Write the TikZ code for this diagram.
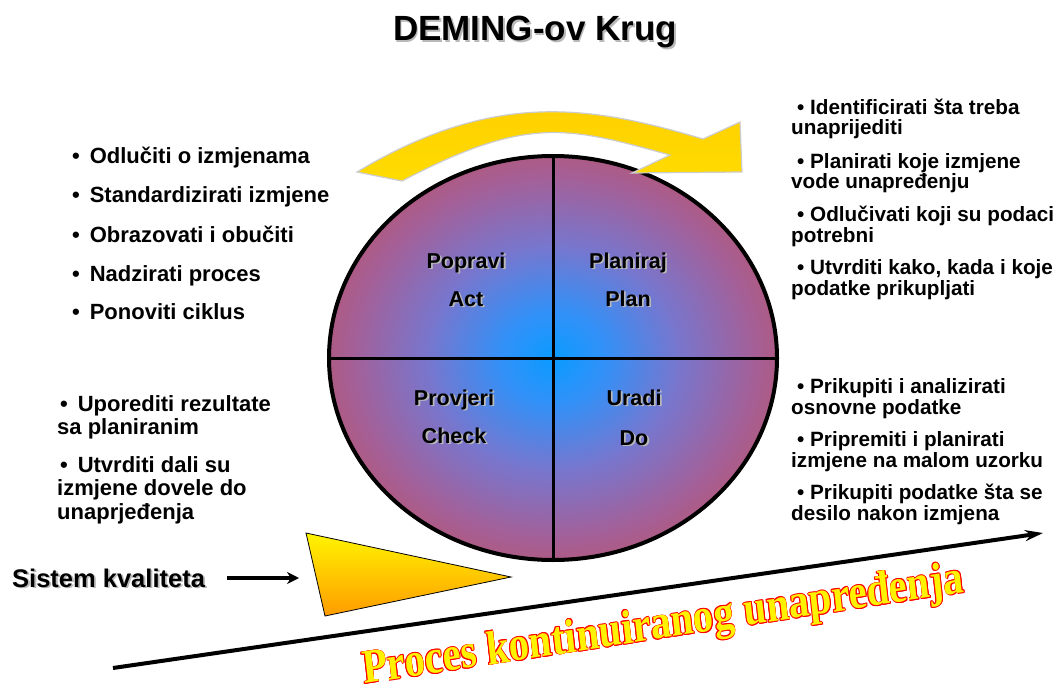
\documentclass[tikz,border=0pt]{standalone}
\usepackage{fontspec}
\setmainfont{Liberation Sans}
\newfontfamily\procfont{Liberation Serif}
\usetikzlibrary{arrows.meta}
\definecolor{cA}{RGB}{10,155,255}
\definecolor{cB}{RGB}{50,145,248}
\definecolor{cC}{RGB}{120,118,205}
\definecolor{cD}{RGB}{165,95,150}
\definecolor{cE}{RGB}{188,82,98}
\definecolor{cF}{RGB}{192,80,80}
\definecolor{arrTop}{RGB}{255,205,0}
\definecolor{arrMid}{RGB}{255,248,0}
\definecolor{arrBot}{RGB}{255,220,0}
\definecolor{triTop}{RGB}{255,245,0}
\definecolor{triBot}{RGB}{255,155,0}
\definecolor{shadowgray}{RGB}{185,185,185}
\pgfdeclareradialshading{deming}{\pgfpoint{0bp}{0bp}}{color(0bp)=(cA); color(5.7bp)=(cB); color(14bp)=(cC); color(22.6bp)=(cD); color(29.7bp)=(cE); color(35.4bp)=(cF); color(50bp)=(cF)}
\newcommand\shtext[1]{\makebox[0pt][l]{\hspace{1.8pt}\raisebox{-1.8pt}{\textcolor{shadowgray}{#1}}}#1}
\newcommand\redcopy[3]{\makebox[0pt][l]{\hspace{#1}\raisebox{#2}{\textcolor{red}{#3}}}}
\newcommand\outl[1]{\redcopy{0.9pt}{0pt}{#1}\redcopy{-0.9pt}{0pt}{#1}\redcopy{0pt}{0.9pt}{#1}\redcopy{0pt}{-0.9pt}{#1}\redcopy{0.65pt}{0.65pt}{#1}\redcopy{-0.65pt}{0.65pt}{#1}\redcopy{0.65pt}{-0.65pt}{#1}\redcopy{-0.65pt}{-0.65pt}{#1}\textcolor{yellow}{#1}}
\newcommand\lbul{\textbullet\hspace{0.45em}}
\tikzset{
  lefttxt/.style={anchor=base west, align=left, inner sep=0pt, font=\fontsize{22}{23.5}\selectfont\bfseries},
  righttxt/.style={anchor=base west, align=left, inner sep=0pt, font=\fontsize{20.7}{20.5}\selectfont\bfseries},
  quad/.style={anchor=base, inner sep=0pt, font=\fontsize{21.5}{24}\selectfont\bfseries},
}
\begin{document}
\begin{tikzpicture}[x=1pt,y=-1pt]
\useasboundingbox (0,0) rectangle (1062,687);
\fill[white] (0,0) rectangle (1062,687);
% title
\node[anchor=base, inner sep=0pt, font=\fontsize{35}{40}\selectfont\bfseries] (title) at (535,41) {\shtext{DEMING-ov Krug}};
% circle
\path[shading=deming] (553,358) ellipse [x radius=224pt, y radius=202pt];
\draw[line width=4pt] (553,358) ellipse [x radius=224pt, y radius=202pt];
\coordinate (ctop) at (553,157);
\coordinate (cbot) at (553,560);
\coordinate (cleft) at (330,358);
\coordinate (cright) at (776,358);
\draw[line width=3pt] (ctop) -- (cbot);
\draw[line width=3pt] (cleft) -- (cright);
% top curved arrow
\path[draw=gray!40, line width=1.2pt, top color=arrTop, middle color=arrMid, bottom color=arrBot]
  (357,172) .. controls (495,89) and (592,106) .. (703,139) -- (740,122) -- (742,172) -- (632,173) -- (670,155)
  .. controls (568,127) and (528,115) .. (402,181) -- cycle;
% quadrant labels
\node[quad] (q1a) at (466,268) {\shtext{Popravi}};
\node[quad] (q1b) at (466,306) {\shtext{Act}};
\node[quad] (q2a) at (628,268) {\shtext{Planiraj}};
\node[quad] (q2b) at (628,306) {\shtext{Plan}};
\node[quad] (q3a) at (454,405) {\shtext{Provjeri}};
\node[quad] (q3b) at (454,443) {\shtext{Check}};
\node[quad] (q4a) at (634,405) {\shtext{Uradi}};
\node[quad] (q4b) at (634,445) {\shtext{Do}};
% left upper bullets
\node[lefttxt] (l1) at (72,164) {\lbul Odlučiti o izmjenama};
\node[lefttxt] (l2) at (72,203) {\lbul Standardizirati izmjene};
\node[lefttxt] (l3) at (72,242) {\lbul Obrazovati i obučiti};
\node[lefttxt] (l4) at (72,281) {\lbul Nadzirati proces};
\node[lefttxt] (l5) at (72,319) {\lbul Ponoviti ciklus};
% left lower bullets (anchor = baseline of last line)
\node[lefttxt] (l6) at (57,434.5) {\hspace*{3pt}\lbul Uporediti rezultate\\sa planiranim};
\node[lefttxt] (l7) at (57,519) {\hspace*{3pt}\lbul Utvrditi dali su\\izmjene dovele do\\unaprjeđenja};
% right upper bullets
\node[righttxt] (r1) at (791,135) {\hspace*{6pt}\textbullet\ Identificirati šta treba\\unaprijediti};
\node[righttxt] (r2) at (791,188.5) {\hspace*{6pt}\textbullet\ Planirati koje izmjene\\vode unapređenju};
\node[righttxt] (r3) at (791,242) {\hspace*{6pt}\textbullet\ Odlučivati koji su podaci\\potrebni};
\node[righttxt] (r4) at (791,295) {\hspace*{6pt}\textbullet\ Utvrditi kako, kada i koje\\podatke prikupljati};
% right lower bullets
\node[righttxt] (r5) at (791,414) {\hspace*{6pt}\textbullet\ Prikupiti i analizirati\\osnovne podatke};
\node[righttxt] (r6) at (791,467) {\hspace*{6pt}\textbullet\ Pripremiti i planirati\\izmjene na malom uzorku};
\node[righttxt] (r7) at (791,520) {\hspace*{6pt}\textbullet\ Prikupiti podatke šta se\\desilo nakon izmjena};
% quality system
\node[anchor=base west, inner sep=0pt, font=\fontsize{25.5}{28}\selectfont\bfseries] (sk) at (12,587) {\shtext{Sistem kvaliteta}};
\path[draw=black, line width=0.8pt, top color=triTop, bottom color=triBot] (306,533) -- (511,577) -- (325,616) -- cycle;
\coordinate (tri) at (299,578);
\coordinate (skend) at (227,578);
\draw[line width=3.5pt, -{Stealth[length=12pt,width=12pt]}] (skend) -- (tri);
% long improvement arrow
\coordinate (ps) at (113,668);
\coordinate (pe) at (1043,533);
\draw[line width=4pt, -{Stealth[length=18pt,width=11pt]}] (ps) -- (pe);
\node[xscale=0.85, rotate=7.4, anchor=base west, inner sep=0pt, font=\fontsize{48}{48}\selectfont\procfont\bfseries] (proc) at (364,684) {\outl{Proces kontinuiranog unapređenja}};
\end{tikzpicture}
\end{document}
